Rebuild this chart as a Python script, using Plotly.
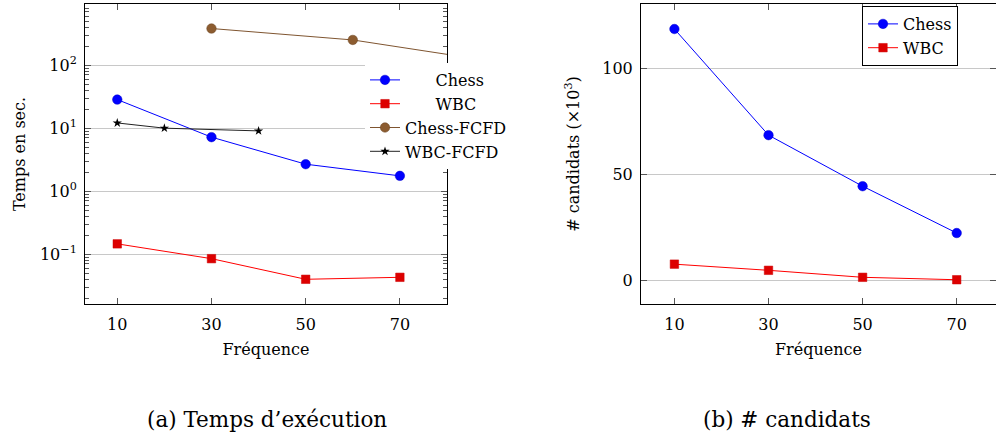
import plotly.graph_objects as go

# ---------------- data ----------------
freq = [10, 30, 50, 70]
time_chess = [28.4, 7.2, 2.68, 1.75]
time_wbc = [0.146, 0.085, 0.040, 0.043]
freq_chess_fcfd = [30, 60, 90]
time_chess_fcfd = [381, 251, 114]
freq_wbc_fcfd = [10, 20, 40]
time_wbc_fcfd = [12.1, 10.0, 9.05]
cand_chess = [118.5, 68.4, 44.3, 22.2]
cand_wbc = [7.5, 4.6, 1.3, 0.15]

x_ticks = [10, 30, 50, 70]
log_tickvals = [0.1, 1, 10, 100]
log_ticktext = ["10<sup>\u22121</sup>", "10<sup>0</sup>", "10<sup>1</sup>", "10<sup>2</sup>"]
lin_tickvals = [0, 50, 100]

FONT = "DejaVu Serif, serif"
FS = 16
W, H = 996, 437

BLUE = "#0000ff"
RED = "#ff0000"
BROWN = "#7f5530"

def px(x):
    return x / W

def py(y):
    return 1 - y / H

NB = "\u00a0"

fig = go.Figure()

# ---- left plot ----
fig.add_trace(go.Scatter(x=freq, y=time_chess, mode="lines+markers", name=NB * 6 + "Chess",
                         line=dict(color=BLUE, width=1),
                         marker=dict(symbol="circle", size=9.5, color=BLUE, line=dict(color="#0000cc", width=0.5)),
                         xaxis="x", yaxis="y", legend="legend"))
fig.add_trace(go.Scatter(x=freq, y=time_wbc, mode="lines+markers", name=NB * 6 + "WBC",
                         line=dict(color=RED, width=1),
                         marker=dict(symbol="square", size=8.5, color="#dd0000", line=dict(color="#cc0000", width=0.5)),
                         xaxis="x", yaxis="y", legend="legend"))
fig.add_trace(go.Scatter(x=freq_chess_fcfd, y=time_chess_fcfd, mode="lines+markers", name="Chess-FCFD",
                         line=dict(color=BROWN, width=1),
                         marker=dict(symbol="circle", size=9.5, color="#8c5c30", line=dict(color="#6b4422", width=0.5)),
                         xaxis="x", yaxis="y", legend="legend"))
fig.add_trace(go.Scatter(x=freq_wbc_fcfd, y=time_wbc_fcfd, mode="lines+markers", name="WBC-FCFD",
                         line=dict(color="#222222", width=1),
                         marker=dict(symbol="star", size=7, color="black", line=dict(width=0)),
                         xaxis="x", yaxis="y", legend="legend"))

# ---- right plot ----
fig.add_trace(go.Scatter(x=freq, y=cand_chess, mode="lines+markers", name="Chess",
                         line=dict(color=BLUE, width=1),
                         marker=dict(symbol="circle", size=9.5, color=BLUE, line=dict(color="#0000cc", width=0.5)),
                         xaxis="x2", yaxis="y2", legend="legend2"))
fig.add_trace(go.Scatter(x=freq, y=cand_wbc, mode="lines+markers", name="WBC",
                         line=dict(color=RED, width=1),
                         marker=dict(symbol="square", size=8.5, color="#dd0000", line=dict(color="#cc0000", width=0.5)),
                         xaxis="x2", yaxis="y2", legend="legend2"))

axis_common = dict(showline=True, linecolor="black", linewidth=1, mirror="ticks",
                   ticks="inside", ticklen=6, tickcolor="#555555", tickwidth=1,
                   tickfont=dict(family=FONT, size=FS, color="black"),
                   zeroline=False)

minor_vals = [k * 10 ** n for n in range(-2, 3) for k in range(2, 10)]

fig.update_layout(
    width=W, height=H,
    margin=dict(l=0, r=0, t=0, b=0),
    paper_bgcolor="white", plot_bgcolor="white",
    font=dict(family=FONT, size=FS, color="black"),
    showlegend=True,
    xaxis=dict(domain=[px(85), px(447)], range=[3.15, 80], tickvals=x_ticks, showgrid=False,
               anchor="y", ticklabelstandoff=6,
               title=dict(text="Fréquence", font=dict(family=FONT, size=FS), standoff=10),
               **axis_common),
    yaxis=dict(domain=[py(304), py(4)], type="log", range=[-1.79, 2.97],
               tickvals=log_tickvals, ticktext=log_ticktext,
               showgrid=True, gridcolor="#c8c8c8", gridwidth=1, anchor="x", ticklabelstandoff=4,
               minor=dict(tickvals=minor_vals, ticks="inside", ticklen=4, tickcolor="#555555", showgrid=False),
               title=dict(text="Temps en sec.", font=dict(family=FONT, size=FS), standoff=10),
               **axis_common),
    xaxis2=dict(domain=[px(641), 1.0], range=[2.9, 78.35], tickvals=x_ticks, showgrid=False,
                anchor="y2", ticklabelstandoff=6,
                title=dict(text="Fréquence", font=dict(family=FONT, size=FS), standoff=10),
                **axis_common),
    yaxis2=dict(domain=[py(304), py(4)], range=[-11.3, 130.3], tickvals=lin_tickvals,
                showgrid=True, gridcolor="#c8c8c8", gridwidth=1, anchor="x2", ticklabelstandoff=4,
                title=dict(text="# candidats (×10<sup>3</sup>)", font=dict(family=FONT, size=FS), standoff=18),
                **axis_common),
    legend=dict(x=px(365), y=py(63), xanchor="left", yanchor="top",
                bgcolor="white", borderwidth=0,
                font=dict(family=FONT, size=FS, color="black"), itemsizing="trace"),
    legend2=dict(x=px(862), y=py(6), xanchor="left", yanchor="top",
                 bgcolor="white", bordercolor="black", borderwidth=1,
                 font=dict(family=FONT, size=FS, color="black"), itemsizing="trace"),
    annotations=[
        dict(text="(a) Temps d\u2019exécution", x=px(267), y=py(419), xref="paper", yref="paper",
             showarrow=False, font=dict(family=FONT, size=21.5, color="black"), xanchor="center", yanchor="middle"),
        dict(text="(b) # candidats", x=px(787), y=py(419), xref="paper", yref="paper",
             showarrow=False, font=dict(family=FONT, size=21.5, color="black"), xanchor="center", yanchor="middle"),
    ],
)

fig.write_html("out.html")
